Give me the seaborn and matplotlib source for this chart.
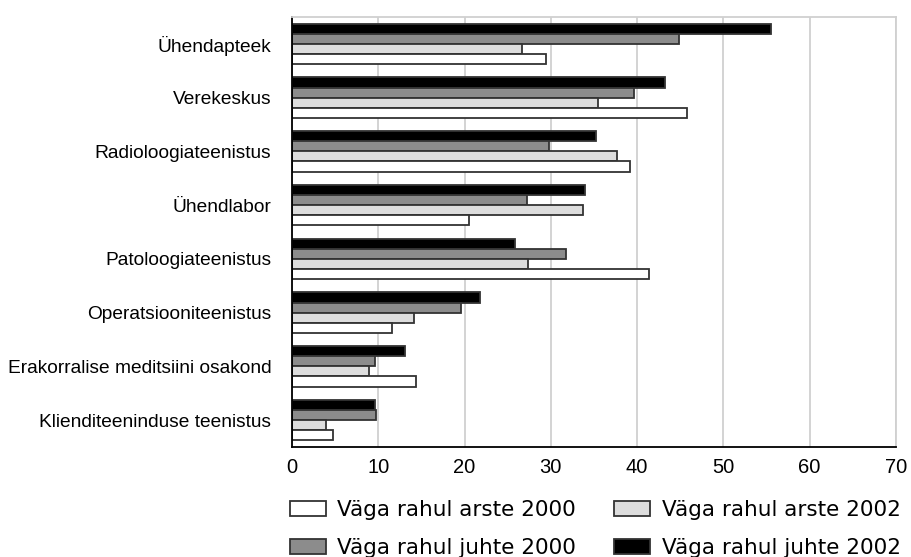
import matplotlib
matplotlib.use("Agg")
import matplotlib.pyplot as plt
from matplotlib.patches import Patch
import seaborn as sns
import pandas as pd

# Share of "very satisfied" respondents per service (%)
categories = [
    "Ühendapteek",
    "Verekeskus",
    "Radioloogiateenistus",
    "Ühendlabor",
    "Patoloogiateenistus",
    "Operatsiooniteenistus",
    "Erakorralise meditsiini osakond",
    "Klienditeeninduse teenistus",
]
arste_2000 = [29.4, 45.8, 39.2, 20.5, 41.4, 11.6, 14.4, 4.7]
arste_2002 = [26.7, 35.5, 37.7, 33.7, 27.4, 14.1, 8.9, 3.9]
juhte_2000 = [44.9, 39.6, 29.8, 27.2, 31.8, 19.6, 9.6, 9.7]
juhte_2002 = [55.5, 43.2, 35.2, 34.0, 25.8, 21.8, 13.1, 9.6]

series_names = [
    "Väga rahul arste 2000",
    "Väga rahul arste 2002",
    "Väga rahul juhte 2000",
    "Väga rahul juhte 2002",
]
colors = ["#ffffff", "#dddddd", "#8c8c8c", "#000000"]
xticks = [0, 10, 20, 30, 40, 50, 60, 70]

rows = []
for name, vals in zip(series_names, [arste_2000, arste_2002, juhte_2000, juhte_2002]):
    for cat, v in zip(categories, vals):
        rows.append({"category": cat, "series": name, "value": v})
df = pd.DataFrame(rows)

sns.set_style("white")
plt.rcParams["font.family"] = ["DejaVu Sans"]
plt.rcParams["text.color"] = "black"
plt.rcParams["xtick.color"] = "black"
plt.rcParams["ytick.color"] = "black"
tick_font = "Liberation Sans"

fig = plt.figure(figsize=(9.11, 5.57), dpi=100)
ax = fig.add_axes([0.3205, 0.1975, 0.663, 0.772])

palette = dict(zip(series_names, colors))
# juhte 2002 on top of each group, arste 2000 at bottom
hue_order = series_names[::-1]
sns.barplot(data=df, y="category", x="value", hue="series", hue_order=hue_order,
            order=categories, palette=palette, orient="h", width=0.75,
            edgecolor="#333333", linewidth=1.3, saturation=1, ax=ax, legend=False)

ax.set_xlim(0, 70)
ax.set_ylim(len(categories) - 0.5, -0.5)
ax.set_xticks(xticks)
ax.set_xticklabels([str(t) for t in xticks], fontsize=14.5, family=tick_font)
ax.set_yticks(range(len(categories)))
ax.set_yticklabels(categories, fontsize=13.8, family=tick_font)
ax.set_xlabel("")
ax.set_ylabel("")

# ticks on the left spine sit between categories
ax.set_yticks([i - 0.5 for i in range(len(categories) + 1)], minor=True)
ax.tick_params(axis="y", which="major", length=0, pad=15)
ax.tick_params(axis="y", which="minor", length=5, width=1.2, color="black", direction="out")
ax.tick_params(axis="x", which="major", length=5, width=1.2, color="black", direction="out", pad=3)

ax.grid(axis="x", color="#d0d0d0", linewidth=1.3)
ax.set_axisbelow(True)
for side in ["left", "bottom"]:
    ax.spines[side].set_color("black")
    ax.spines[side].set_linewidth(1.3)
for side in ["top", "right"]:
    ax.spines[side].set_color("#d0d0d0")
    ax.spines[side].set_linewidth(1.3)

# legend: two columns, arste in the first row, juhte in the second
legend_idx = [0, 2, 1, 3]
handles = [Patch(facecolor=colors[i], edgecolor="#333333", linewidth=1.3) for i in legend_idx]
labels = [series_names[i] for i in legend_idx]
fig.legend(handles, labels, loc="upper left", bbox_to_anchor=(0.318, 0.102),
           ncol=2, frameon=False, fontsize=15.5, handlelength=1.67, handleheight=0.74,
           handletextpad=0.55, columnspacing=1.75, labelspacing=0.82, borderpad=0,
           borderaxespad=0)

fig.savefig("out.png", dpi=100)
